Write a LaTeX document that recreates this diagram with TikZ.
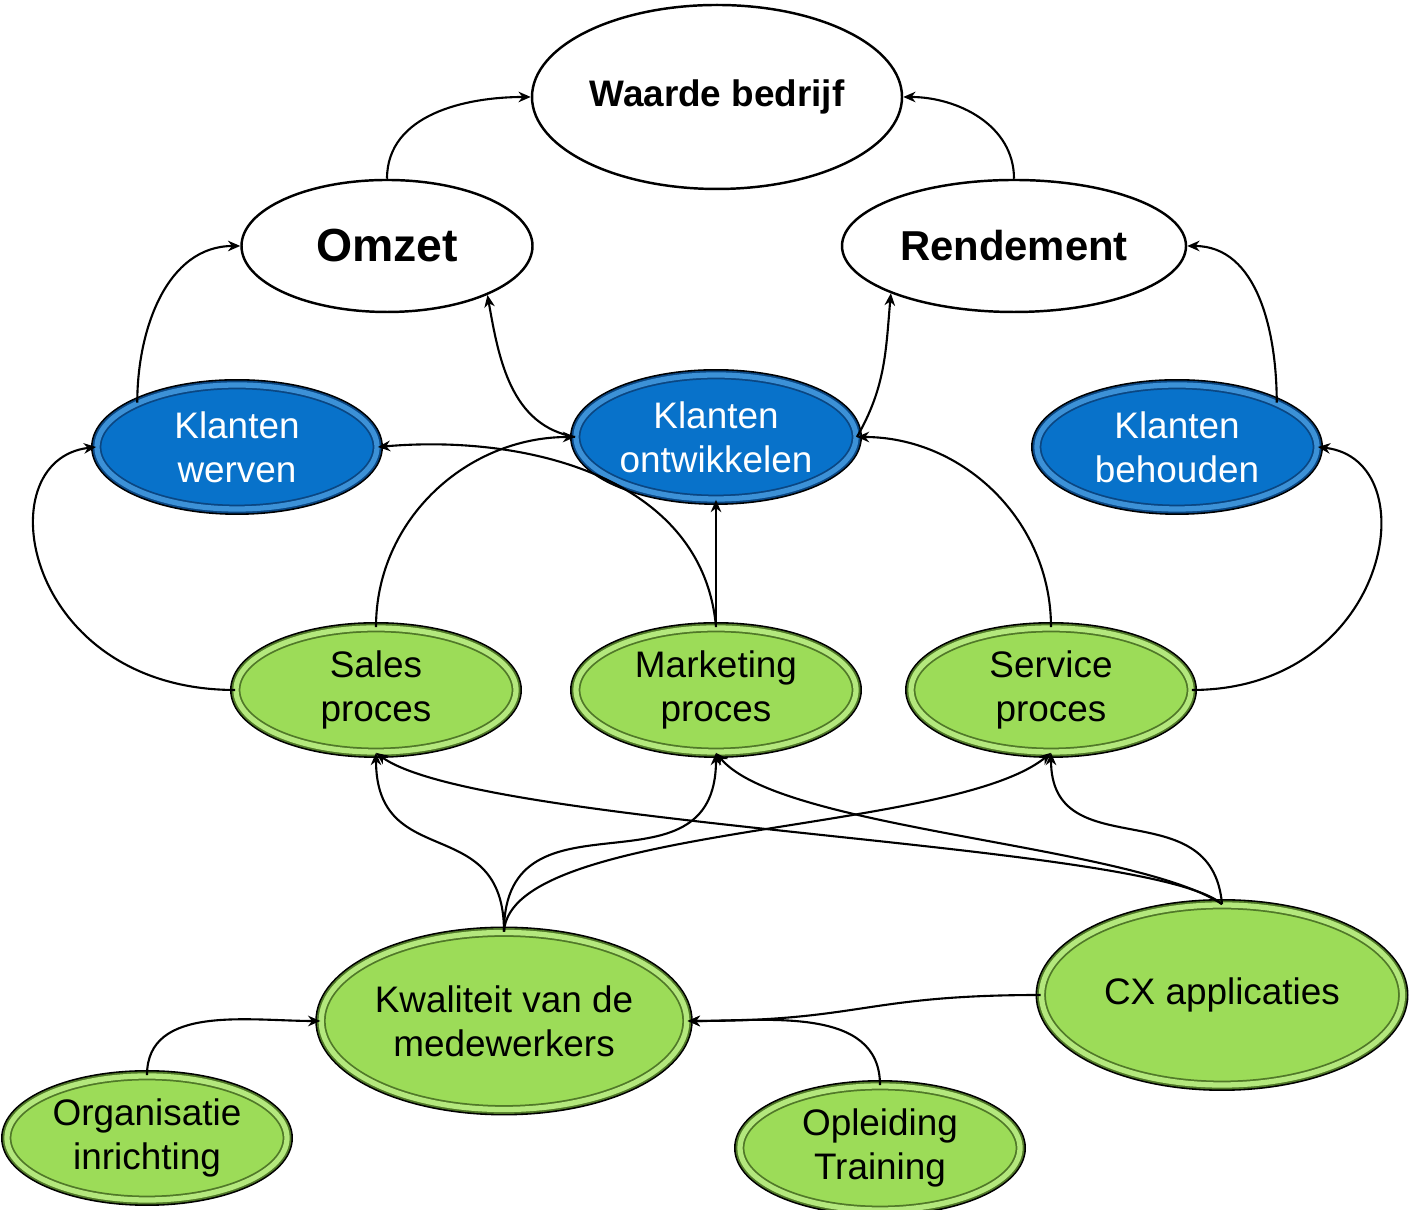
\documentclass[tikz,border=0pt]{standalone}
\usepackage{fontspec}
\setmainfont{Liberation Sans}
\usepackage{tikz}
\usetikzlibrary{shapes.geometric,arrows.meta}
\usepackage{xcolor}
\definecolor{kpiBlue}{RGB}{8,114,202}
\definecolor{kpiBlueRim}{RGB}{60,145,215}
\definecolor{kpiBlueDark}{RGB}{10,70,130}
\definecolor{kpiGreen}{RGB}{156,220,88}
\definecolor{kpiGreenRim}{RGB}{180,232,125}
\definecolor{kpiGreenDark}{RGB}{80,120,40}

\begin{document}
\begin{tikzpicture}[
    goal/.style={ellipse, draw=black, line width=0.7pt, fill=white, inner sep=0pt, align=center, font=\bfseries},
    klant/.style={ellipse, preaction={draw=black, line width=3.4pt}, draw=kpiBlueDark, line width=0.5pt, double=kpiBlueRim, double distance=1.5pt, fill=kpiBlue, text=white, minimum width=2.8cm, minimum height=1.24cm, inner sep=0pt, align=center, font=\fontsize{10.5}{12.6}\selectfont},
    proces/.style={ellipse, preaction={draw=black, line width=3.4pt}, draw=kpiGreenDark, line width=0.5pt, double=kpiGreenRim, double distance=1.5pt, fill=kpiGreen, text=black, minimum width=2.8cm, minimum height=1.24cm, inner sep=0pt, align=center, font=\fontsize{10.5}{12.6}\selectfont},
    big/.style={minimum width=3.61cm, minimum height=1.77cm},
    link/.style={-{Stealth[length=3.5pt,width=3pt]}, line width=0.6pt, black}
]
\useasboundingbox (0,0) rectangle (14.09,12.10);

% Goals
\node[goal, minimum width=3.7cm, minimum height=1.84cm, font=\bfseries\fontsize{10.5}{12.6}\selectfont] (waarde) at (7.17,11.13) {Waarde bedrijf};
\node[goal, minimum width=2.91cm, minimum height=1.32cm, font=\bfseries\fontsize{13.2}{15}\selectfont] (omzet) at (3.87,9.64) {Omzet};
\node[goal, minimum width=3.44cm, minimum height=1.32cm, font=\bfseries\fontsize{11.9}{14}\selectfont] (rend) at (10.14,9.64) {Rendement};

% Customer layer
\node[klant] (kw) at (2.37,7.63)  {Klanten\\werven};
\node[klant] (ko) at (7.16,7.73)  {Klanten\\ontwikkelen};
\node[klant] (kb) at (11.77,7.63) {Klanten\\behouden};

% Processes
\node[proces] (sales) at (3.76,5.20)  {Sales\\proces};
\node[proces] (mark)  at (7.16,5.20)  {Marketing\\proces};
\node[proces] (serv)  at (10.51,5.20) {Service\\proces};

% Enablers
\node[proces, big] (kwal) at (5.04,1.89)  {Kwaliteit van de\\medewerkers};
\node[proces, big, minimum height=1.8cm] (cx) at (12.22,2.15) {CX applicaties};
\node[proces] (org) at (1.47,0.72) {Organisatie\\inrichting};
\node[proces] (opl) at (8.80,0.62) {Opleiding\\Training};

% Goals to value
\draw[link] (omzet.north) to[out=90,in=180] (waarde.west);
\draw[link] (rend.north) to[out=90,in=0] (waarde.east);

% Customer layer to goals
\draw[link] (kw.156) to[out=90,in=180] (omzet.west);
\draw[link] (ko.west) to[out=170,in=-80] (omzet.-26);
\draw[link] (ko.east) to[out=60,in=-95] (rend.201);
\draw[link] (kb.24) to[out=90,in=0] (rend.east);

% Processes to customer layer
\draw[link] (sales.west) .. controls +(-2.12,0) and +(-1.12,-0.13) .. (kw.west);
\draw[link] (sales.north) to[out=90,in=180] (ko.west);
\draw[link] (mark.north) to[out=95,in=5] (kw.east);
\draw[link] (mark.north) -- (ko.south);
\draw[link] (serv.north) to[out=90,in=0] (ko.east);
\draw[link] (serv.east) .. controls +(1.98,0) and +(1.12,-0.13) .. (kb.east);

% Enablers to processes
\draw[link] (kwal.north) to[out=90,in=-90,looseness=1.4] (sales.south);
\draw[link] (kwal.north) to[out=90,in=-90,looseness=1.4] (mark.south);
\draw[link] (kwal.north) .. controls +(0.06,1.08) and +(-1.01,-0.82) .. (serv.south);
\draw[link] (cx.north) .. controls +(-0.72,0.62) and +(1.04,-0.75) .. (sales.south);
\draw[link] (cx.north) .. controls +(-0.92,0.60) and +(0.64,-0.77) .. (mark.south);
\draw[link] (cx.north) to[out=95,in=-90,looseness=1.3] (serv.south);

% Bottom row
\draw[link] (cx.west) .. controls +(-1.77,0) and +(1.75,0) .. (kwal.east);
\draw[link] (org.north) to[out=90,in=180] (kwal.west);
\draw[link] (opl.north) to[out=90,in=0] (kwal.east);

\end{tikzpicture}
\end{document}
